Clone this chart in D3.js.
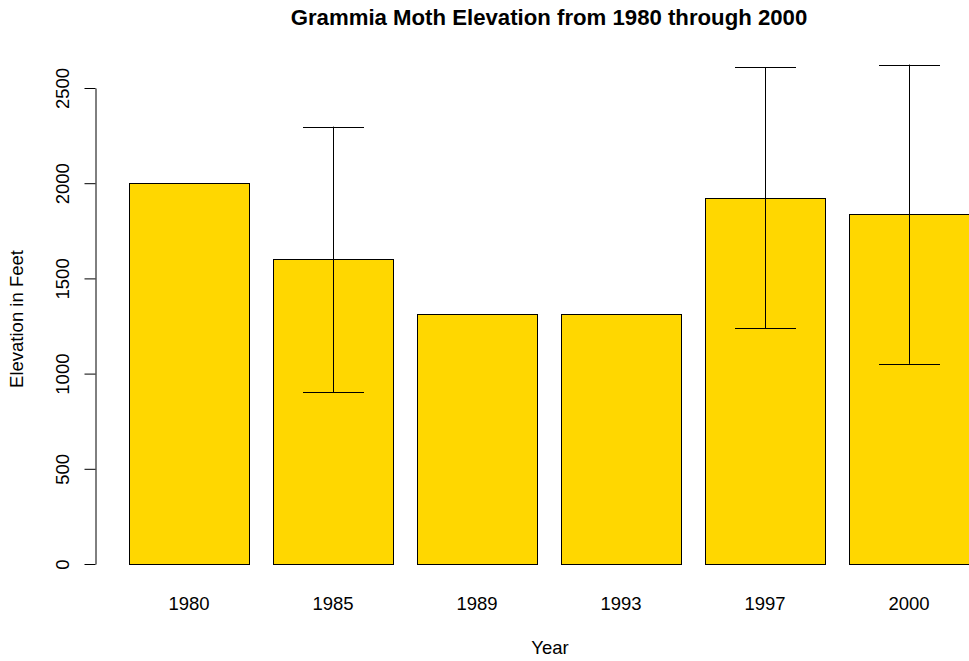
<!DOCTYPE html>
<html>
<head>
<meta charset="utf-8">
<script src="https://cdn.jsdelivr.net/npm/d3@7"></script>
<style>
  html, body { margin: 0; padding: 0; background: #fff; }
  svg { display: block; font-family: "Liberation Sans", Arial, sans-serif; }
</style>
</head>
<body>
<script>
// ---- data ----
const years = ["1980", "1985", "1989", "1993", "1997", "2000"];
const meanElevation = [2000, 1600, 1315, 1315, 1922, 1837];
const errLow = [null, 903, null, null, 1238, 1051];
const errHigh = [null, 2297, null, null, 2608, 2623];
const yTicks = [0, 500, 1000, 1500, 2000, 2500];
const titleText = "Grammia Moth Elevation from 1980 through 2000";
const xLabel = "Year";
const yLabel = "Elevation in Feet";

const W = 969, H = 661;
const FS = 18.5;
const svg = d3.select("body").append("svg").attr("width", W).attr("height", H);

const x = d3.scaleBand().domain(years).range([105, 993])
  .paddingInner(1 / 6).paddingOuter(1 / 6);
const y = d3.scaleLinear().domain([0, 2500]).range([564, 88]);

const rows = years.map((yr, i) => ({ yr, v: meanElevation[i], lo: errLow[i], hi: errHigh[i] }));

// bars
svg.append("g").selectAll("rect").data(rows).join("rect")
  .attr("x", d => x(d.yr) + 0.5)
  .attr("y", d => Math.round(y(d.v)) + 0.5)
  .attr("width", x.bandwidth())
  .attr("height", d => y(0) - Math.round(y(d.v)))
  .attr("fill", "#FFD700")
  .attr("stroke", "#000")
  .attr("stroke-width", 1);

// error bars
const eb = svg.append("g").attr("stroke", "#000").attr("stroke-width", 1)
  .selectAll("g").data(rows.filter(d => d.lo != null)).join("g");
const cx = d => Math.round(x(d.yr) + x.bandwidth() / 2) + 0.5;
eb.append("line").attr("x1", cx).attr("x2", cx)
  .attr("y1", d => y(d.lo)).attr("y2", d => y(d.hi));
eb.append("line").attr("x1", d => cx(d) - 30.5).attr("x2", d => cx(d) + 30.5)
  .attr("y1", d => Math.round(y(d.hi)) + 0.5).attr("y2", d => Math.round(y(d.hi)) + 0.5);
eb.append("line").attr("x1", d => cx(d) - 30.5).attr("x2", d => cx(d) + 30.5)
  .attr("y1", d => Math.round(y(d.lo)) + 0.5).attr("y2", d => Math.round(y(d.lo)) + 0.5);

// y axis
const yAxis = d3.axisLeft(y).tickValues(yTicks).tickFormat(d3.format("d"))
  .tickSize(11).tickSizeOuter(0).tickPadding(0);
const ya = svg.append("g").attr("transform", "translate(95.5,0)").call(yAxis);
ya.select(".domain").attr("stroke", "#000");
ya.selectAll(".tick line").attr("stroke", "#000");
ya.selectAll(".tick text")
  .attr("font-size", FS)
  .attr("fill", "#000")
  .attr("text-anchor", "middle")
  .attr("x", null).attr("dy", null)
  .attr("transform", "translate(-27,0) rotate(-90)");

// x labels
const xa = svg.append("g").attr("transform", "translate(0,564)")
  .call(d3.axisBottom(x).tickSize(0).tickPadding(0));
xa.select(".domain").remove();
xa.selectAll(".tick text").attr("font-size", FS).attr("fill", "#000")
  .attr("y", 46).attr("dy", null);

// title
svg.append("text").attr("x", 549).attr("y", 25).attr("text-anchor", "middle")
  .attr("font-size", FS * 1.2).attr("font-weight", "bold").text(titleText);

// axis labels
svg.append("text").attr("x", 550).attr("y", 654).attr("text-anchor", "middle")
  .attr("font-size", FS).text(xLabel);
svg.append("text").attr("transform", "translate(23,319) rotate(-90)")
  .attr("text-anchor", "middle").attr("font-size", FS).text(yLabel);
</script>
</body>
</html>
